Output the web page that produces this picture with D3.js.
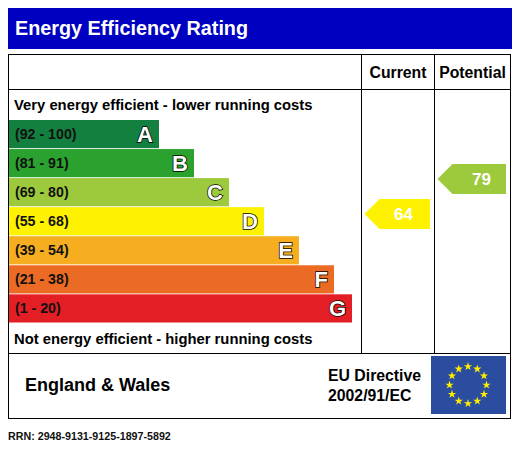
<!DOCTYPE html>
<html>
<head>
<meta charset="utf-8">
<script src="https://cdn.jsdelivr.net/npm/d3@7"></script>
<style>
  body { margin: 0; background: #fff; }
  svg { display: block; font-family: "Liberation Sans", Arial, sans-serif; font-weight: bold; }
</style>
</head>
<body>
<svg id="chart" width="515" height="455"></svg>
<script>
// rating bands, best first
var letters = ["A", "B", "C", "D", "E", "F", "G"];
var ranges = ["(92 - 100)", "(81 - 91)", "(69 - 80)", "(55 - 68)", "(39 - 54)", "(21 - 38)", "(1 - 20)"];
var bandMin = [92, 81, 69, 55, 39, 21, 1];
var colors = ["#138040", "#2ba12f", "#9dc93c", "#fff200", "#f6ad1f", "#ec6b24", "#e31e24"];
var scoreNames = ["Current", "Potential"];
var scores = [64, 79];
var rrn = "RRN: 2948-9131-9125-1897-5892";

var svg = d3.select("#chart");

// title bar
svg.append("rect").attr("x", 8).attr("y", 8).attr("width", 504).attr("height", 41).attr("fill", "#0000c0");
svg.append("text").attr("x", 15).attr("y", 35).attr("fill", "#fff")
    .style("font-size", "19.8px").text("Energy Efficiency Rating");

// frame and grid lines
var box = { left: 8.5, right: 510.5, top: 54.5, bottom: 418.5 };
var cols = [361.5, 434.5];
var headBottom = 89.5, rateBottom = 353.5;
var g = svg.append("g").attr("stroke", "#000").attr("stroke-width", 1);
g.append("rect").attr("x", box.left).attr("y", box.top)
    .attr("width", box.right - box.left).attr("height", box.bottom - box.top).attr("fill", "none");
g.append("line").attr("x1", box.left).attr("x2", box.right).attr("y1", headBottom).attr("y2", headBottom);
g.append("line").attr("x1", box.left).attr("x2", box.right).attr("y1", rateBottom).attr("y2", rateBottom);
cols.forEach(function (c) {
    g.append("line").attr("x1", c).attr("x2", c).attr("y1", box.top).attr("y2", rateBottom);
});

// column headers
var colCenters = [(cols[0] + cols[1]) / 2, (cols[1] + box.right) / 2];
svg.selectAll(".head").data(scoreNames).enter().append("text")
    .attr("x", function (d, i) { return colCenters[i]; })
    .attr("y", 78).attr("text-anchor", "middle")
    .style("font-size", "15.8px").text(function (d) { return d; });

svg.append("text").attr("x", 14).attr("y", 110).style("font-size", "14.8px")
    .text("Very energy efficient - lower running costs");
svg.append("text").attr("x", 14).attr("y", 344).style("font-size", "14.8px")
    .text("Not energy efficient - higher running costs");

// bars
var y = d3.scaleBand().domain(letters).range([120, 322.5]).paddingInner(0.03);
var x = d3.scaleLinear().domain([0, 5]).range([159, 334]);
var barEnd = function (i) { return Math.min(x(i), cols[0] - 9.5); };

var bar = svg.selectAll(".band").data(letters).enter().append("g").attr("class", "band");
bar.append("rect")
    .attr("x", 9).attr("y", function (d) { return y(d); })
    .attr("width", function (d, i) { return barEnd(i) - 9; })
    .attr("height", y.bandwidth())
    .attr("fill", function (d, i) { return colors[i]; });
bar.append("text")
    .attr("x", 15).attr("y", function (d) { return y(d) + y.bandwidth() / 2 + 5; })
    .style("font-size", "14.2px").attr("fill", "#111")
    .text(function (d, i) { return ranges[i]; });
bar.append("text")
    .attr("x", function (d, i) { return barEnd(i) - 6; })
    .attr("y", function (d) { return y(d) + y.bandwidth() / 2 + 8; })
    .attr("text-anchor", "end").style("font-size", "22px")
    .attr("fill", "#fff").attr("stroke", "#000").attr("stroke-width", 1.5)
    .attr("paint-order", "stroke")
    .text(function (d) { return d; });

// score arrows
var ys = d3.scaleLinear().domain([0, 100]).range([363.3, 130]);
var arrowH = 30, tip = 15;
var bandOf = function (s) { return bandMin.findIndex(function (m) { return s >= m; }); };
var arrow = svg.selectAll(".arrow").data(scores).enter().append("g")
    .attr("transform", function (d, i) { return "translate(" + (cols[i] + 3) + "," + ys(d) + ")"; });
arrow.append("path")
    .attr("d", function (d, i) {
        var w = (i === 0 ? cols[1] : box.right) - cols[i] - 7.5;
        return "M0,0L" + tip + "," + (-arrowH / 2) + "H" + w + "V" + (arrowH / 2) + "H" + tip + "Z";
    })
    .attr("fill", function (d) { return colors[bandOf(d)]; });
arrow.append("text")
    .attr("x", function (d, i) { return i === 0 ? 39 : 44; }).attr("y", 6)
    .attr("text-anchor", "middle").attr("fill", "#fff").style("font-size", "17px")
    .text(function (d) { return d; });

// footer
svg.append("text").attr("x", 25).attr("y", 391).style("font-size", "18px").text("England & Wales");
svg.append("text").attr("x", 328).attr("y", 381).style("font-size", "15.8px").text("EU Directive");
svg.append("text").attr("x", 328).attr("y", 401).style("font-size", "15.8px").text("2002/91/EC");

// EU flag
svg.append("rect").attr("x", 431).attr("y", 356).attr("width", 75).attr("height", 58).attr("fill", "#2a4d9f");
var star = d3.symbol().type(d3.symbolStar).size(22);
svg.selectAll(".star").data(d3.range(12)).enter().append("path")
    .attr("d", star)
    .attr("fill", "#ffed00")
    .attr("transform", function (d) {
        var a = d / 12 * 2 * Math.PI;
        return "translate(" + (468 + 18.5 * Math.sin(a)) + "," + (385 - 18.5 * Math.cos(a)) + ")";
    });

svg.append("text").attr("x", 8).attr("y", 440).style("font-size", "10.7px").attr("fill", "#111").text(rrn);
</script>
</body>
</html>
